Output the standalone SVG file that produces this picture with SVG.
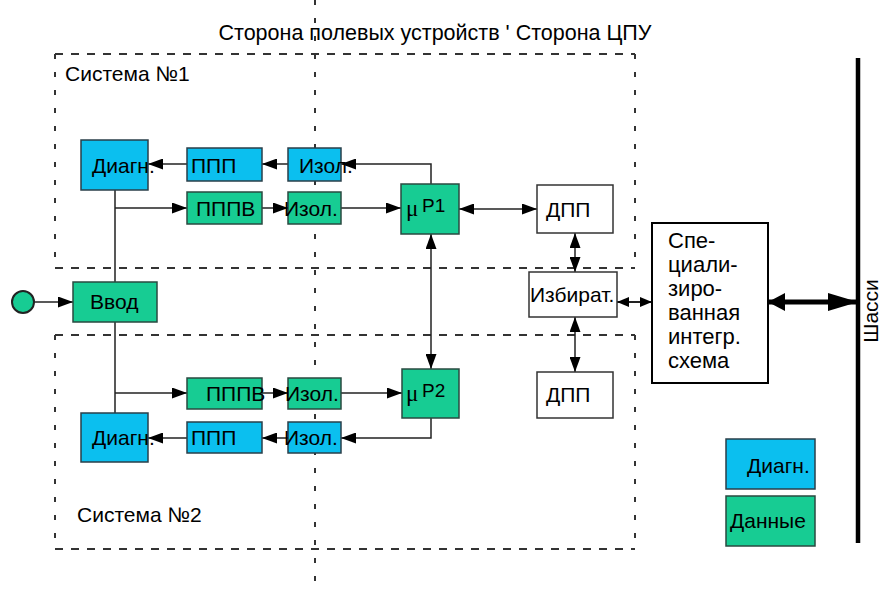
<svg xmlns="http://www.w3.org/2000/svg" width="882" height="592" viewBox="0 0 882 592">
<style>
text{font-family:"Liberation Sans",Arial,sans-serif;font-size:21px;fill:#000}
.b{fill:#0bbfef;stroke:#2a3f4a;stroke-width:1.5}
.g{fill:#17cc93;stroke:#2a4a40;stroke-width:1.5}
.w{fill:#fff;stroke:#333;stroke-width:1.5}
.k{fill:#fff;stroke:#000;stroke-width:2.5}
.dh{fill:none;stroke:#333;stroke-width:2;stroke-dasharray:8 8}
.dv{fill:none;stroke:#333;stroke-width:2;stroke-dasharray:5 13}
.c{fill:none;stroke:#222;stroke-width:1.5}
.e{marker-end:url(#a)}
.d{marker-end:url(#a);marker-start:url(#a)}
.mu{font-family:"Liberation Serif","Times New Roman",serif;font-size:23px}
.p{font-size:19px}
.ic{font-size:22px}
</style>
<defs>
<marker id="a" markerUnits="userSpaceOnUse" markerWidth="15" markerHeight="11" refX="15" refY="5.5" orient="auto-start-reverse"><path d="M0,0 L15,5.5 L0,11 z" fill="#000"/></marker>
<marker id="s" markerUnits="userSpaceOnUse" markerWidth="12" markerHeight="10" refX="12" refY="5" orient="auto-start-reverse"><path d="M0,0 L12,5 L0,10 z" fill="#000"/></marker>
<marker id="tl" markerUnits="userSpaceOnUse" markerWidth="17" markerHeight="18" refX="17" refY="9" orient="auto-start-reverse"><path d="M0,0 L17,9 L0,18 z" fill="#000"/></marker>
<marker id="tr" markerUnits="userSpaceOnUse" markerWidth="30" markerHeight="18" refX="30" refY="9" orient="auto"><path d="M0,0 L30,9 L0,18 z" fill="#000"/></marker>
</defs>
<rect width="882" height="592" fill="#fff"/>

<g id="frames">
<path class="dh" d="M55,54 H635 M55,268 H635 M55,335 H635 M55,549 H635"/>
<path class="dv" d="M55,54 V268 M635,54 V268 M55,335 V549 M635,335 V549 M315,0 V592"/>
</g>

<text x="435" y="40" text-anchor="middle" style="font-size:21.5px">Сторона полевых устройств ' Сторона ЦПУ</text>
<text x="65" y="81">Система №1</text>
<text x="77" y="522">Система №2</text>

<g id="connectors">
<path class="c e" d="M34,302 H73"/>
<path class="c" d="M115,190 V282 M115,322 V413"/>
<path class="c e" d="M115,208 H187"/>
<path class="c e" d="M262,208 H288"/>
<path class="c e" d="M341,208 H401"/>
<path class="c e" d="M431,184 V164 H341"/>
<path class="c e" d="M288,164 H262"/>
<path class="c e" d="M187,164 H148"/>
<path class="c d" d="M431,234 V369"/>
<path class="c d" d="M459,209 H537"/>
<path class="c d" d="M575,233 V272"/>
<path class="c d" d="M575,317 V372"/>
<path class="c" d="M617,302 H652" style="stroke-width:2;marker-start:url(#s);marker-end:url(#s)"/>
<path d="M768,302 H858" style="fill:none;stroke:#000;stroke-width:5;marker-start:url(#tl);marker-end:url(#tr)"/>
<path class="c e" d="M115,393 H187"/>
<path class="c e" d="M262,393 H288"/>
<path class="c e" d="M341,393 H402"/>
<path class="c e" d="M431,418 V438 H341"/>
<path class="c e" d="M288,438 H262"/>
<path class="c e" d="M187,438 H148"/>
</g>

<g id="input"><circle cx="23" cy="302" r="11" class="g" style="stroke:#222;stroke-width:2"/></g>
<g id="vvod"><rect class="g" x="73" y="282" width="84" height="40"/><text x="90" y="309">Ввод</text></g>

<g id="diag1"><rect class="b" x="81" y="140" width="67" height="50"/><text x="92" y="173">Диагн.</text></g>
<g id="ppp1"><rect class="b" x="187" y="148" width="75" height="33"/><text x="191" y="173">ППП</text></g>
<g id="izol1d"><rect class="b" x="288" y="148" width="53" height="33"/><text x="299" y="173">Изол.</text></g>
<g id="pppv1"><rect class="g" x="187" y="192" width="75" height="32"/><text x="196" y="216">ПППВ</text></g>
<g id="izol1"><rect class="g" x="288" y="192" width="53" height="32"/><text x="284" y="216">Изол.</text></g>
<g id="mp1"><rect class="g" x="401" y="184" width="58" height="50"/><text class="mu" x="406" y="216">μ</text><text class="p" x="422" y="212">P1</text></g>
<g id="dpp1"><rect class="w" x="537" y="185" width="76" height="48"/><text x="546" y="217">ДПП</text></g>

<g id="izbirat"><rect class="w" x="529" y="272" width="88" height="45"/><text x="530" y="302">Избират.</text></g>

<g id="pppv2"><rect class="g" x="187" y="378" width="75" height="31"/><text x="206" y="401">ПППВ</text></g>
<g id="izol2"><rect class="g" x="288" y="378" width="53" height="31"/><text x="285" y="401">Изол.</text></g>
<g id="mp2"><rect class="g" x="402" y="369" width="57" height="49"/><text class="mu" x="406" y="401">μ</text><text class="p" x="422" y="397">P2</text></g>
<g id="dpp2"><rect class="w" x="537" y="372" width="76" height="46"/><text x="546" y="402">ДПП</text></g>

<g id="diag2"><rect class="b" x="81" y="413" width="67" height="49"/><text x="92" y="445">Диагн.</text></g>
<g id="ppp2"><rect class="b" x="187" y="422" width="75" height="31"/><text x="191" y="445">ППП</text></g>
<g id="izol2d"><rect class="b" x="288" y="422" width="53" height="31"/><text x="284" y="445">Изол.</text></g>

<g id="asic"><rect class="k" x="652" y="223" width="116" height="160" style="stroke-width:2"/>
<text class="ic" x="668" y="248">Спе-</text>
<text class="ic" x="668" y="272">циали-</text>
<text class="ic" x="668" y="296">зиро-</text>
<text class="ic" x="668" y="320">ванная</text>
<text class="ic" x="668" y="344">интегр.</text>
<text class="ic" x="668" y="368">схема</text>
</g>

<g id="chassis"><path d="M858,58 V543" stroke="#000" stroke-width="4.5"/><text transform="translate(878,311) rotate(-90)" text-anchor="middle">Шасси</text></g>

<g id="legend">
<rect class="b" x="726" y="439" width="89" height="50"/><text x="747" y="473">Диагн.</text>
<rect class="g" x="726" y="496" width="89" height="50"/><text x="730" y="528">Данные</text>
</g>
</svg>
